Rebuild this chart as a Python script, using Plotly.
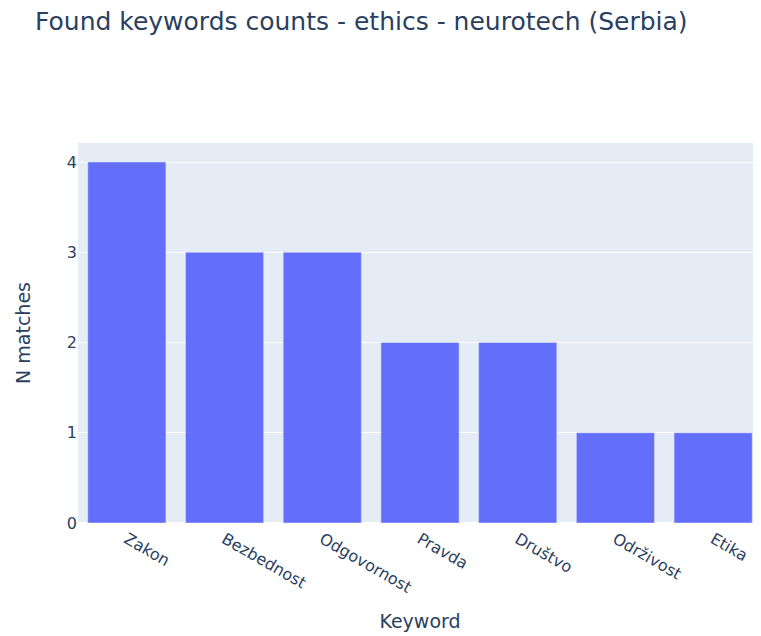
import plotly.graph_objects as go

keywords = ["Zakon", "Bezbednost", "Odgovornost", "Pravda", "Društvo", "Održivost", "Etika"]
counts = [4, 3, 3, 2, 2, 1, 1]

fig = go.Figure()
fig.add_trace(go.Bar(x=keywords, y=counts, marker=dict(color="#636efa")))

# the page body adds an 8px margin, so the figure is sized to fit the window
fig.update_layout(
    width=761, height=628,
    template="plotly",
    font=dict(family="DejaVu Sans", size=16, color="#2a3f5f"),
    title=dict(text="Found keywords counts - ethics - neurotech (Serbia)",
               x=27 / 761, xanchor="left", y=1 - 13 / 628, yanchor="middle", yref="container",
               font=dict(size=25)),
    margin=dict(l=70, r=7, t=135, b=113),
    xaxis=dict(title=dict(text="Keyword", font=dict(size=19), standoff=18),
               tickangle=30, automargin=False, ticklabelstandoff=3),
    yaxis=dict(title=dict(text="N matches", font=dict(size=19), standoff=31), dtick=1),
    bargap=0.2,
)

fig.write_html("out.html")
